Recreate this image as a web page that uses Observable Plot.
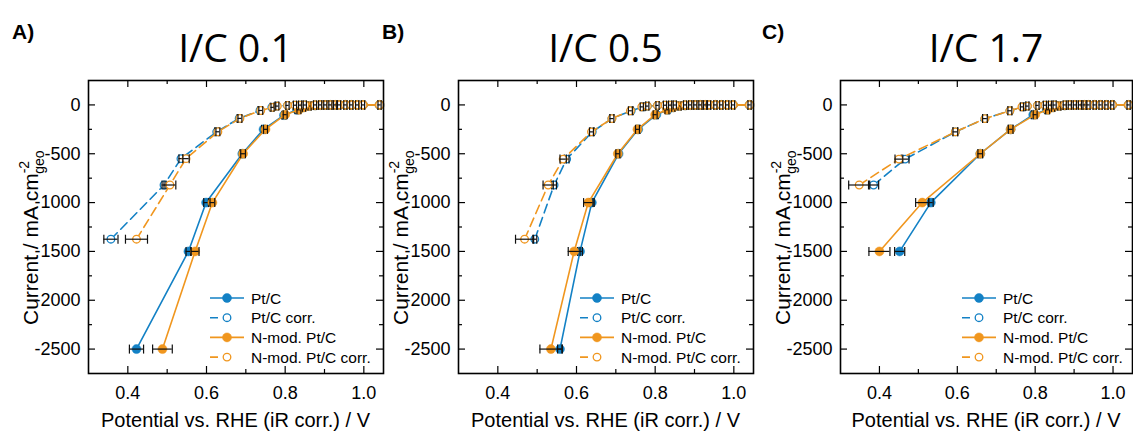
<!DOCTYPE html>
<html><head><meta charset="utf-8">
<script src="https://cdn.jsdelivr.net/npm/d3@7"></script>
<script src="https://cdn.jsdelivr.net/npm/@observablehq/plot@0.6"></script>
<style>
body{margin:0;background:#fff;}
#root{position:relative;width:1133px;height:433px;overflow:hidden;font-family:Arial,"Liberation Sans",sans-serif;}
#root > svg{position:absolute;top:0;}
</style></head>
<body><div id="root"></div>
<script>
// ---------- text / ticks ----------
const panelLetters = ["A)", "B)", "C)"];
const panelTitles = ["I/C 0.1", "I/C 0.5", "I/C 1.7"];
const seriesNames = ["Pt/C", "Pt/C corr.", "N-mod. Pt/C", "N-mod. Pt/C corr."];
const xMajorTicks = [0.4, 0.6, 0.8, 1.0];
const xMinorTicks = [0.5, 0.7, 0.9];
const yMajorTicks = [0, -500, -1000, -1500, -2000, -2500];
const yMinorTicks = [-250, -750, -1250, -1750, -2250];
const xLabel = "Potential vs. RHE (iR corr.) / V";

// ---------- Panel A (I/C 0.1) ----------
const A_ptc_E   = [0.422,0.554,0.599,0.691,0.745,0.797,0.830,0.846,0.862,0.876,0.889,0.902,0.915,0.927,0.937,0.953,0.968,0.983,0.998,1.040];
const A_ptc_I   = [-2500,-1500,-1000,-500,-250,-105,-50,-25,-10,-5,-2,-1,0,0,0,0,0,0,0,0];
const A_ptc_err = [0.018,0.006,0.006,0.006,0.005,0.005,0.005,0.004,0.004,0.004,0.004,0.004,0.004,0.004,0.004,0.004,0.004,0.004,0.004,0.004];
const A_ptcC_E   = [0.357,0.492,0.535,0.626,0.683,0.736,0.766,0.778,0.806,0.825,0.838,0.850,0.876,0.889,0.902,0.915,0.927,0.937,0.953,0.968,0.983,0.998,1.040];
const A_ptcC_I   = [-1375,-820,-550,-275,-138,-57,-25,-12,-5,-3,-2,-1,0,0,0,0,0,0,0,0,0,0,0];
const A_ptcC_err = [0.018,0.005,0.005,0.005,0.005,0.005,0.004,0.004,0.004,0.004,0.004,0.004,0.004,0.004,0.004,0.004,0.004,0.004,0.004,0.004,0.004,0.004,0.004];
const A_nmod_E   = [0.488,0.571,0.615,0.693,0.750,0.800,0.835,0.848,0.862,0.876,0.889,0.902,0.915,0.927,0.937,0.953,0.968,0.983,0.998,1.040];
const A_nmod_I   = [-2500,-1500,-1000,-500,-250,-100,-50,-25,-10,-5,-2,-1,0,0,0,0,0,0,0,0];
const A_nmod_err = [0.025,0.010,0.006,0.006,0.005,0.005,0.005,0.004,0.004,0.004,0.004,0.004,0.004,0.004,0.004,0.004,0.004,0.004,0.004,0.004];
const A_nmodC_E   = [0.422,0.507,0.548,0.629,0.685,0.738,0.768,0.780,0.806,0.825,0.838,0.850,0.876,0.889,0.902,0.915,0.927,0.937,0.953,0.968,0.983,0.998,1.040];
const A_nmodC_I   = [-1375,-820,-550,-275,-138,-57,-25,-12,-5,-3,-2,-1,0,0,0,0,0,0,0,0,0,0,0];
const A_nmodC_err = [0.028,0.015,0.008,0.005,0.005,0.005,0.004,0.004,0.004,0.004,0.004,0.004,0.004,0.004,0.004,0.004,0.004,0.004,0.004,0.004,0.004,0.004,0.004];

// ---------- Panel B (I/C 0.5) ----------
const B_ptc_E   = [0.558,0.609,0.639,0.707,0.757,0.803,0.832,0.846,0.862,0.876,0.889,0.902,0.915,0.927,0.937,0.953,0.968,0.983,0.998,1.040];
const B_ptc_I   = [-2500,-1500,-1000,-500,-250,-100,-50,-25,-10,-5,-2,-1,0,0,0,0,0,0,0,0];
const B_ptc_err = [0.006,0.006,0.006,0.005,0.005,0.005,0.005,0.004,0.004,0.004,0.004,0.004,0.004,0.004,0.004,0.004,0.004,0.004,0.004,0.004];
const B_ptcC_E   = [0.494,0.543,0.575,0.640,0.690,0.739,0.770,0.780,0.806,0.825,0.838,0.850,0.876,0.889,0.902,0.915,0.927,0.937,0.953,0.968,0.983,0.998,1.040];
const B_ptcC_I   = [-1375,-820,-555,-276,-140,-60,-20,-12,-5,-3,-2,-1,0,0,0,0,0,0,0,0,0,0,0];
const B_ptcC_err = [0.005,0.006,0.006,0.005,0.005,0.005,0.004,0.004,0.004,0.004,0.004,0.004,0.004,0.004,0.004,0.004,0.004,0.004,0.004,0.004,0.004,0.004,0.004];
const B_nmod_E   = [0.535,0.594,0.630,0.705,0.755,0.800,0.830,0.846,0.862,0.876,0.889,0.902,0.915,0.927,0.937,0.953,0.968,0.983,0.998,1.040];
const B_nmod_I   = [-2500,-1500,-1000,-500,-250,-100,-50,-25,-10,-5,-2,-1,0,0,0,0,0,0,0,0];
const B_nmod_err = [0.028,0.015,0.012,0.005,0.005,0.005,0.005,0.004,0.004,0.004,0.004,0.004,0.004,0.004,0.004,0.004,0.004,0.004,0.004,0.004];
const B_nmodC_E   = [0.468,0.528,0.566,0.638,0.690,0.737,0.766,0.780,0.806,0.825,0.838,0.850,0.876,0.889,0.902,0.915,0.927,0.937,0.953,0.968,0.983,0.998,1.040];
const B_nmodC_I   = [-1375,-820,-555,-276,-140,-60,-20,-12,-5,-3,-2,-1,0,0,0,0,0,0,0,0,0,0,0];
const B_nmodC_err = [0.023,0.013,0.008,0.005,0.005,0.005,0.004,0.004,0.004,0.004,0.004,0.004,0.004,0.004,0.004,0.004,0.004,0.004,0.004,0.004,0.004,0.004,0.004];

// ---------- Panel C (I/C 1.7) ----------
const C_ptc_E   = [0.452,0.532,0.659,0.737,0.795,0.830,0.846,0.862,0.876,0.889,0.902,0.915,0.927,0.937,0.953,0.968,0.983,0.998,1.040];
const C_ptc_I   = [-1500,-1000,-500,-250,-100,-50,-25,-10,-5,-2,-1,0,0,0,0,0,0,0,0];
const C_ptc_err = [0.013,0.006,0.006,0.006,0.005,0.005,0.004,0.004,0.004,0.004,0.004,0.004,0.004,0.004,0.004,0.004,0.004,0.004,0.004];
const C_ptcC_E   = [0.385,0.466,0.595,0.671,0.735,0.770,0.780,0.806,0.825,0.838,0.850,0.876,0.889,0.902,0.915,0.927,0.937,0.953,0.968,0.983,0.998,1.040];
const C_ptcC_I   = [-820,-555,-276,-140,-60,-20,-12,-5,-3,-2,-1,0,0,0,0,0,0,0,0,0,0,0];
const C_ptcC_err = [0.013,0.010,0.006,0.006,0.005,0.004,0.004,0.004,0.004,0.004,0.004,0.004,0.004,0.004,0.004,0.004,0.004,0.004,0.004,0.004,0.004,0.004];
const C_nmod_E   = [0.400,0.510,0.659,0.737,0.800,0.832,0.846,0.862,0.876,0.889,0.902,0.915,0.927,0.937,0.953,0.968,0.983,0.998,1.040];
const C_nmod_I   = [-1500,-1000,-500,-250,-100,-50,-25,-10,-5,-2,-1,0,0,0,0,0,0,0,0];
const C_nmod_err = [0.027,0.017,0.006,0.006,0.005,0.005,0.004,0.004,0.004,0.004,0.004,0.004,0.004,0.004,0.004,0.004,0.004,0.004,0.004];
const C_nmodC_E   = [0.348,0.450,0.595,0.671,0.735,0.766,0.780,0.806,0.825,0.838,0.850,0.876,0.889,0.902,0.915,0.927,0.937,0.953,0.968,0.983,0.998,1.040];
const C_nmodC_I   = [-820,-555,-276,-140,-60,-20,-12,-5,-3,-2,-1,0,0,0,0,0,0,0,0,0,0,0];
const C_nmodC_err = [0.027,0.010,0.006,0.006,0.005,0.004,0.004,0.004,0.004,0.004,0.004,0.004,0.004,0.004,0.004,0.004,0.004,0.004,0.004,0.004,0.004,0.004];

// ---------- build tables ----------
function rows(E, I, err) { return E.map((e, i) => ({E: e, I: I[i], err: err[i]})); }
const panelData = [
  [rows(A_ptc_E,A_ptc_I,A_ptc_err), rows(A_ptcC_E,A_ptcC_I,A_ptcC_err), rows(A_nmod_E,A_nmod_I,A_nmod_err), rows(A_nmodC_E,A_nmodC_I,A_nmodC_err)],
  [rows(B_ptc_E,B_ptc_I,B_ptc_err), rows(B_ptcC_E,B_ptcC_I,B_ptcC_err), rows(B_nmod_E,B_nmod_I,B_nmod_err), rows(B_nmodC_E,B_nmodC_I,B_nmodC_err)],
  [rows(C_ptc_E,C_ptc_I,C_ptc_err), rows(C_ptcC_E,C_ptcC_I,C_ptcC_err), rows(C_nmod_E,C_nmod_I,C_nmod_err), rows(C_nmodC_E,C_nmodC_I,C_nmodC_err)]
];

// ---------- styling ----------
const BLUE = "#1381c5", ORANGE = "#f0961e";
const seriesStyle = [
  {color: BLUE, open: false},
  {color: BLUE, open: true},
  {color: ORANGE, open: false},
  {color: ORANGE, open: true}
];
const frameLefts = [88, 458, 840];
const frameWidths = [295, 295, 292];
const ML = 88, MT = 80, FH = 293, MB = 60, MR = 4;
const capSymbol = {draw(ctx, size) { const h = Math.sqrt(size / Math.PI); ctx.moveTo(0, -h); ctx.lineTo(0, h); }};

const root = document.getElementById("root");

panelData.forEach((series, p) => {
  const fw = frameWidths[p];
  const marks = [
    Plot.tickX(xMajorTicks, {x: d => d, insetTop: FH - 7, stroke: "black", strokeWidth: 1.2}),
    Plot.tickX(xMajorTicks, {x: d => d, insetBottom: FH - 7, stroke: "black", strokeWidth: 1.2}),
    Plot.tickX(xMinorTicks, {x: d => d, insetTop: FH - 4, stroke: "black", strokeWidth: 1.2}),
    Plot.tickX(xMinorTicks, {x: d => d, insetBottom: FH - 4, stroke: "black", strokeWidth: 1.2}),
    Plot.tickY(yMajorTicks, {y: d => d, insetRight: fw - 7, stroke: "black", strokeWidth: 1.2}),
    Plot.tickY(yMajorTicks, {y: d => d, insetLeft: fw - 7, stroke: "black", strokeWidth: 1.2}),
    Plot.tickY(yMinorTicks, {y: d => d, insetRight: fw - 4, stroke: "black", strokeWidth: 1.2}),
    Plot.tickY(yMinorTicks, {y: d => d, insetLeft: fw - 4, stroke: "black", strokeWidth: 1.2}),
    Plot.axisX(xMajorTicks, {tickSize: 0, tickPadding: 13, tickFormat: d => d.toFixed(1), label: null, fontSize: 18}),
    Plot.axisY(yMajorTicks, {tickSize: 0, tickPadding: 8, tickFormat: d => String(d), label: null, fontSize: 18})
  ];
  series.forEach((data, s) => {
    const st = seriesStyle[s];
    marks.push(Plot.line(data, {x: "E", y: "I", stroke: st.color, strokeWidth: 1.6,
      strokeDasharray: st.open ? "9,5" : null}));
    marks.push(Plot.dot(data, {x: "E", y: "I", r: st.open ? 3.8 : 4.5,
      fill: st.open ? "white" : st.color, stroke: st.color, strokeWidth: st.open ? 1.3 : 0.5}));
    marks.push(Plot.ruleY(data, {y: "I", x1: d => d.E - d.err, x2: d => d.E + d.err, stroke: "#111", strokeWidth: 1.2}));
    marks.push(Plot.dot(data, {x: d => d.E - d.err, y: "I", symbol: capSymbol, r: 4.5, stroke: "#111", strokeWidth: 1.2}));
    marks.push(Plot.dot(data, {x: d => d.E + d.err, y: "I", symbol: capSymbol, r: 4.5, stroke: "#111", strokeWidth: 1.2}));
  });
  marks.push(Plot.frame({stroke: "black", strokeWidth: 1.6}));

  const svg = Plot.plot({
    width: ML + fw + MR, height: MT + FH + MB,
    marginLeft: ML, marginRight: MR, marginTop: MT, marginBottom: MB,
    style: {fontFamily: "Arial, 'Liberation Sans', sans-serif", fontSize: "18px", background: "transparent", color: "black", overflow: "visible"},
    x: {domain: [0.3, 1.05]},
    y: {domain: [-2750, 250]},
    marks
  });
  svg.style.left = (frameLefts[p] - ML) + "px";
  root.appendChild(svg);
});

// ---------- overlay text: letters, titles, axis labels, legends ----------
const ov = d3.select(root).append("svg").attr("width", 1133).attr("height", 433)
  .style("left", "0px").style("pointer-events", "none")
  .attr("font-family", "Arial, 'Liberation Sans', sans-serif");

const letterX = [12, 382, 762];
panelLetters.forEach((t, p) => {
  ov.append("text").attr("x", letterX[p]).attr("y", 39).attr("font-size", 21).attr("font-weight", "bold").text(t);
  const cx = frameLefts[p] + frameWidths[p] / 2;
  ov.append("text").attr("x", cx).attr("y", 62).attr("text-anchor", "middle")
    .attr("font-family", "'Open Sans', sans-serif").attr("font-size", 39).text(panelTitles[p]);
  ov.append("text").attr("x", cx).attr("y", 427).attr("text-anchor", "middle").attr("font-size", 20).text(xLabel);
  // y label
  const yl = ov.append("text").attr("transform", `translate(${frameLefts[p] - 50},325) rotate(-90)`)
    .attr("font-size", 21);
  yl.append("tspan").text("Current / mA cm");
  yl.append("tspan").attr("font-size", 14).attr("dy", -9).text("-2");
  yl.append("tspan").attr("font-size", 14).attr("dx", -13).attr("dy", 15).text("geo");
  // legend
  const lx = frameLefts[p] + 122, tx = frameLefts[p] + 163;
  seriesNames.forEach((name, s) => {
    const st = seriesStyle[s];
    const y = MT + 218 + s * 19.7;
    ov.append("line").attr("x1", lx).attr("x2", lx + 34).attr("y1", y).attr("y2", y)
      .attr("stroke", st.color).attr("stroke-width", 1.6)
      .attr("stroke-dasharray", st.open ? "8,5,8,13" : null);
    ov.append("circle").attr("cx", lx + 17).attr("cy", y).attr("r", st.open ? 3.8 : 4.5)
      .attr("fill", st.open ? "white" : st.color).attr("stroke", st.color).attr("stroke-width", st.open ? 1.3 : 0.5);
    ov.append("text").attr("x", tx).attr("y", y + 5.5).attr("font-size", 15.5).text(name);
  });
});
</script>
</body></html>
